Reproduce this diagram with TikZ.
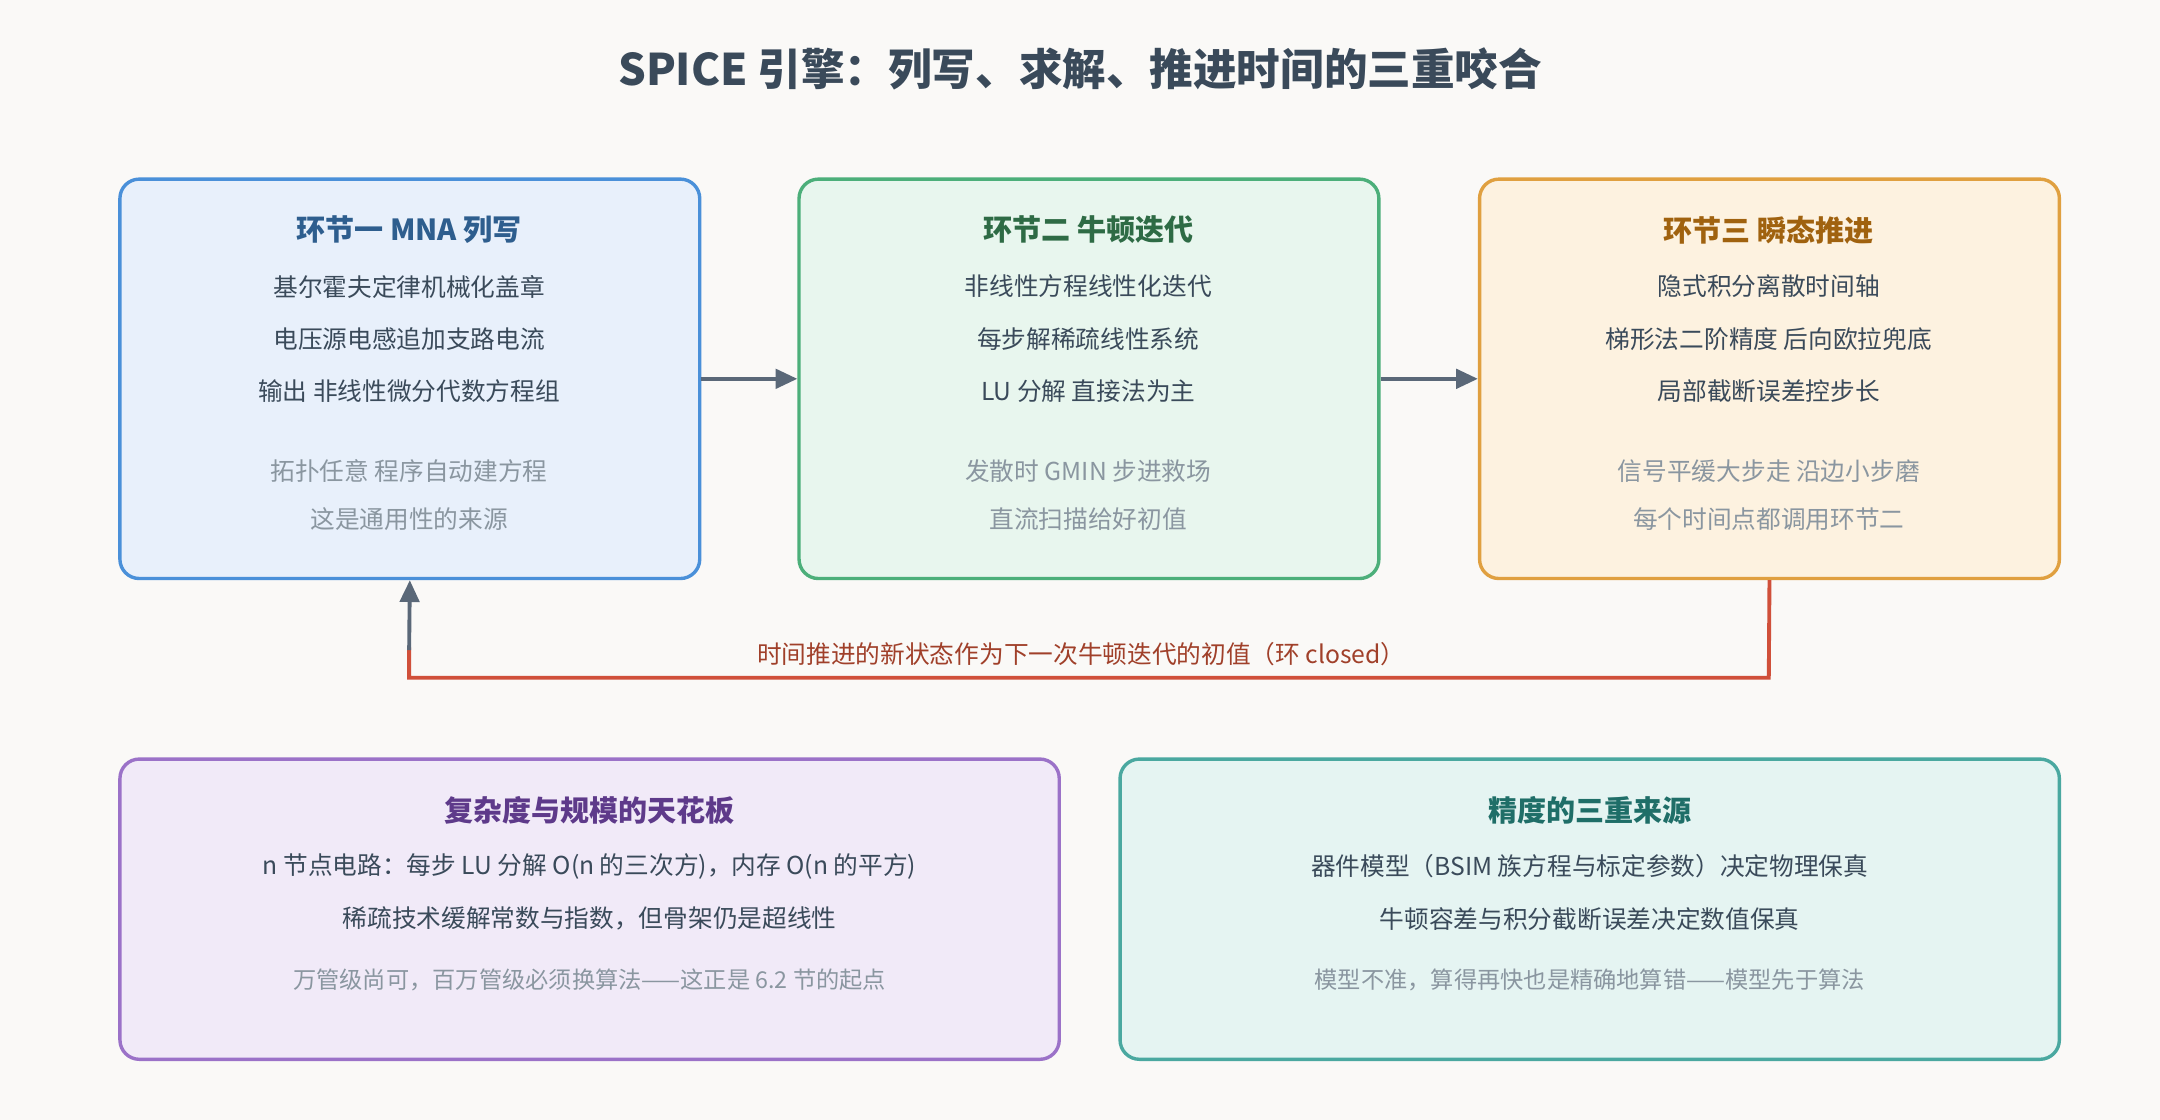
\documentclass[tikz,border=0pt]{standalone}
\usepackage{fontspec}
\setmainfont{Noto Sans CJK SC}
\usetikzlibrary{arrows.meta}
\definecolor{bg}{HTML}{FAF9F7}
\definecolor{txt}{HTML}{3A4A5A}
\definecolor{mute}{HTML}{8A96A0}
\definecolor{arr}{HTML}{5A6878}
\definecolor{loopc}{HTML}{D0503A}
\definecolor{loopt}{HTML}{A0402A}
\definecolor{bA}{HTML}{4A90D9}\definecolor{fA}{HTML}{E8F0FB}\definecolor{tA}{HTML}{2E5E8E}
\definecolor{bB}{HTML}{4CAF7A}\definecolor{fB}{HTML}{E8F6EE}\definecolor{tB}{HTML}{2E6B45}
\definecolor{bC}{HTML}{E0A040}\definecolor{fC}{HTML}{FDF2E0}\definecolor{tC}{HTML}{A0620F}
\definecolor{bD}{HTML}{9B72C8}\definecolor{fD}{HTML}{F1EAF8}\definecolor{tD}{HTML}{5E3A8A}
\definecolor{bE}{HTML}{4AA8A0}\definecolor{fE}{HTML}{E5F4F2}\definecolor{tE}{HTML}{1F6E68}
\begin{document}
\begin{tikzpicture}[
    x=0.02cm, y=-0.02cm,
    box/.style={rectangle, rounded corners=8pt, line width=1.4pt, minimum width=8.42cm, minimum height=5.8cm},
    wide/.style={rectangle, rounded corners=8pt, line width=1.4pt, minimum width=13.64cm, minimum height=4.36cm},
    head/.style={font=\fontsize{12}{14}\selectfont\bfseries},
    line/.style={text=txt, font=\fontsize{10.2}{12}\selectfont},
    note/.style={text=mute, font=\fontsize{10.2}{12}\selectfont},
    arrow/.style={line width=1.6pt, draw=arr, -{Triangle[length=9pt,width=8pt]}}
]
    \fill[bg] (0,0) rectangle (1568,813);
    \node[text=txt, font=\fontsize{18}{21}\selectfont\bfseries] (title) at (784,50) {SPICE 引擎：列写、求解、推进时间的三重咬合};

    % three stages
    \node[box, draw=bA, fill=fA] (mna) at (297.5,275) {};
    \node[box, draw=bB, fill=fB] (newton) at (790.5,275) {};
    \node[box, draw=bC, fill=fC] (trans) at (1284.5,275) {};

    \node[head, text=tA] (h1) at (297,167) {环节一 MNA 列写};
    \node[line] (m1) at (297,208) {基尔霍夫定律机械化盖章};
    \node[line] (m2) at (297,246) {电压源电感追加支路电流};
    \node[line] (m3) at (297,284) {输出 非线性微分代数方程组};
    \node[note] (m4) at (297,342) {拓扑任意 程序自动建方程};
    \node[note] (m5) at (297,377) {这是通用性的来源};

    \node[head, text=tB] (h2) at (790,167) {环节二 牛顿迭代};
    \node[line] (n1) at (790,208) {非线性方程线性化迭代};
    \node[line] (n2) at (790,246) {每步解稀疏线性系统};
    \node[line] (n3) at (790,284) {LU 分解 直接法为主};
    \node[note] (n4) at (790,342) {发散时 GMIN 步进救场};
    \node[note] (n5) at (790,377) {直流扫描给好初值};

    \node[head, text=tC] (h3) at (1284,167) {环节三 瞬态推进};
    \node[line] (t1) at (1284,208) {隐式积分离散时间轴};
    \node[line] (t2) at (1284,246) {梯形法二阶精度 后向欧拉兜底};
    \node[line] (t3) at (1284,284) {局部截断误差控步长};
    \node[note] (t4) at (1284,342) {信号平缓大步走 沿边小步磨};
    \node[note] (t5) at (1284,377) {每个时间点都调用环节二};

    % arrows between stages
    \draw[arrow] (mna) -- (newton);
    \draw[arrow] (newton) -- (trans);

    % feedback loop
    \coordinate (c1) at (1284,492);
    \coordinate (c2) at (297,492);
    \draw[line width=1.6pt, draw=loopc, line join=miter] (trans.south) -- (c1) -- (c2) -- (297,470);
    \draw[arrow] (297,472) -- (mna.south);
    \node[text=loopt, font=\fontsize{10.2}{12}\selectfont] (lbl) at (785,475) {时间推进的新状态作为下一次牛顿迭代的初值（环 closed）};

    % bottom panels
    \node[wide, draw=bD, fill=fD] (cost) at (428,660) {};
    \node[head, text=tD] (h4) at (428,588) {复杂度与规模的天花板};
    \node[line] (c1t) at (428,629) {n 节点电路：每步 LU 分解 O(n 的三次方)，内存 O(n 的平方)};
    \node[line] (c2t) at (428,667) {稀疏技术缓解常数与指数，但骨架仍是超线性};
    \node[note, font=\fontsize{9.6}{11}\selectfont] (c3t) at (428,711) {万管级尚可，百万管级必须换算法——这正是 6.2 节的起点};

    \node[wide, draw=bE, fill=fE] (acc) at (1154,660) {};
    \node[head, text=tE] (h5) at (1154,588) {精度的三重来源};
    \node[line] (a1) at (1154,629) {器件模型（BSIM 族方程与标定参数）决定物理保真};
    \node[line] (a2) at (1154,667) {牛顿容差与积分截断误差决定数值保真};
    \node[note, font=\fontsize{9.6}{11}\selectfont] (a3) at (1154,711) {模型不准，算得再快也是精确地算错——模型先于算法};
\end{tikzpicture}
\end{document}
